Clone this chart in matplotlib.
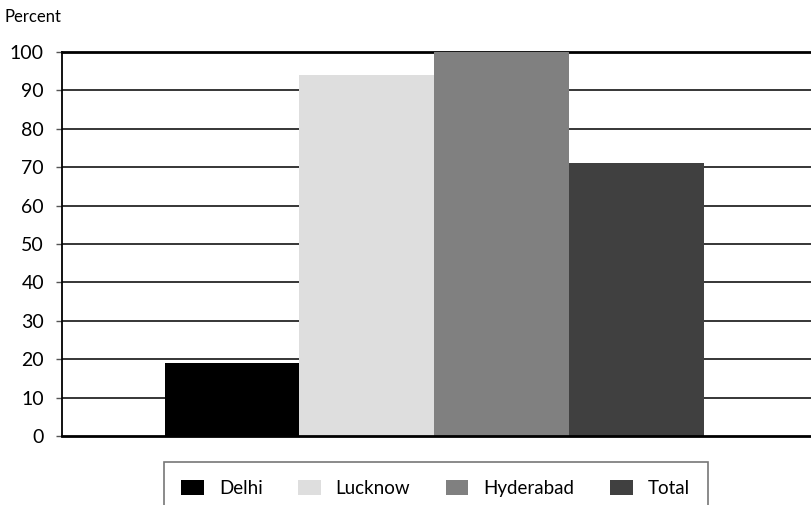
import matplotlib
matplotlib.use("Agg")
import matplotlib.pyplot as plt
from matplotlib.patches import Patch

# Share of respondents by city
cities = ["Delhi", "Lucknow", "Hyderabad", "Total"]
percent = [19, 94, 100, 71]
colors = ["#000000", "#dedede", "#808080", "#404040"]
yticks = [0, 10, 20, 30, 40, 50, 60, 70, 80, 90, 100]

plt.rcParams["font.family"] = ["Lato", "DejaVu Sans"]

fig = plt.figure(figsize=(8.11, 5.05), dpi=100)
ax = fig.add_axes([62 / 811, 1 - 436 / 505, 1 - 62 / 811, (436 - 52) / 505])

bar_w = 0.18
n = len(cities)
offsets = [(i - (n - 1) / 2) * bar_w for i in range(n)]
for off, val, col, name in zip(offsets, percent, colors, cities):
    ax.bar(off, val, width=bar_w, color=col, label=name, zorder=3, linewidth=0)

ax.set_xlim(-0.497, 0.503)
ax.set_ylim(0, 100)
ax.set_yticks(yticks)
ax.set_yticklabels([str(t) for t in yticks], fontsize=14)
ax.set_xticks([])

for t in yticks[1:-1]:
    ax.axhline(t, color="black", linewidth=1.1, zorder=1)
ax.axhline(100, color="black", linewidth=2.0, zorder=1, clip_on=False)

for s in ["top", "right"]:
    ax.spines[s].set_visible(False)
ax.spines["left"].set_linewidth(1.3)
ax.spines["bottom"].set_linewidth(2.0)
ax.spines["left"].set_zorder(4)
ax.spines["bottom"].set_zorder(4)
ax.tick_params(axis="y", length=4, width=1, color="#555555", pad=9)

fig.text(5 / 811, 1 - 17 / 505, "Percent", fontsize=12, va="center", ha="left")

handles = [Patch(facecolor=c, edgecolor="none", label=l) for c, l in zip(colors, cities)]
leg = fig.legend(handles=handles, loc="upper center", ncol=4,
                 bbox_to_anchor=(435.5 / 811, 1 - 462 / 505),
                 frameon=True, fancybox=False, fontsize=13.5,
                 handlelength=1.2, handleheight=0.9, columnspacing=1.9,
                 borderpad=0.95, borderaxespad=0, handletextpad=0.8)
leg.get_frame().set_edgecolor("#555555")
leg.get_frame().set_linewidth(1.2)

fig.savefig("out.png", dpi=100)
